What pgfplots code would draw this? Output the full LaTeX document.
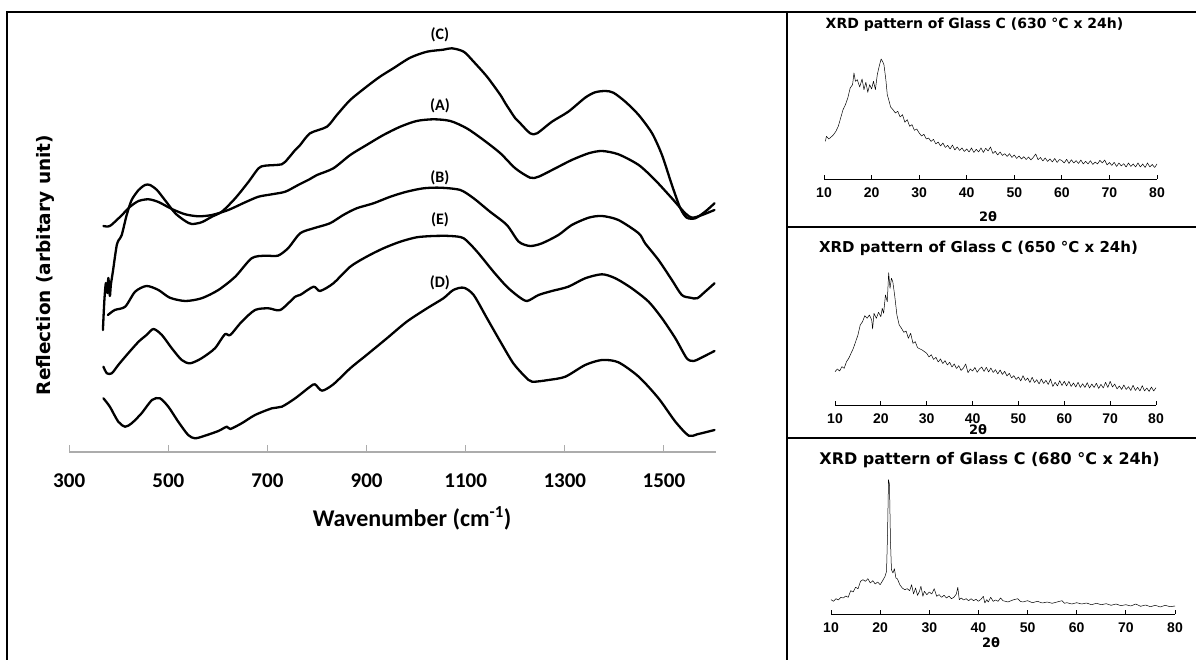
\documentclass[border=0pt]{standalone}
\usepackage{fontspec}
\setmainfont{Carlito}
\newfontfamily\dejavu{DejaVu Sans}
\newfontfamily\libsans{Liberation Sans}
\usepackage{pgfplots}
\pgfplotsset{compat=1.18}

\pgfplotsset{
  xrd/.style={
    scale only axis, height=150pt,
    xmin=10, xmax=80, ymin=0, ymax=150,
    axis x line=bottom, axis y line=none,
    axis line style={draw=black, line width=0.9pt, -},
    xtick={10,20,...,80},
    tick align=inside, major tick length=4pt,
    tick style={draw=black, line width=0.8pt},
    xticklabel style={font=\libsans\bfseries\fontsize{14}{16}\selectfont, anchor=center, yshift=-14pt},
    /pgf/number format/assume math mode=true,
    clip=false,
  },
  xrdline/.style={black, no markers, line width=0.5pt, line join=round},
  ftir/.style={black, no markers, smooth, tension=0.45, line width=2.3pt, line join=round, line cap=round},
}

\begin{document}
\begin{tikzpicture}[x=1pt,y=1pt]
\path[use as bounding box] (0,0) rectangle (1196,660);
\clip (0,0) rectangle (1196,660);

% frames
\draw[line width=2.6pt] (7,-5) -- (7,648) -- (1200,648);
\draw[line width=2.6pt] (787,-5) -- (787,648);
\draw[line width=2.6pt] (787,433) -- (1200,433);
\draw[line width=2.6pt] (787,222) -- (1200,222);

% ---------------- main reflection spectra ----------------
\begin{axis}[
  at={(69.2pt,208pt)}, anchor=south west,
  scale only axis, width=646.8pt, height=440pt,
  xmin=300, xmax=1605, ymin=0, ymax=440,
  axis x line=bottom, axis y line=none,
  axis line style={draw=gray!65, line width=1.5pt, -},
  xtick={300,500,...,1500},
  tick align=inside, major tick length=7pt,
  tick style={draw=gray!65, line width=1pt},
  xticklabel style={font=\bfseries\fontsize{21}{25}\selectfont, anchor=center, yshift=-29pt},
  /pgf/number format/assume math mode=true,
  /pgf/number format/1000 sep={},
  clip=false,
]
% (C)
\addplot[ftir] coordinates {(368,122)(371,152)(374,169)(377,159)(379,174)(382,156)(384,167)(388,180)(392,194)(396,207)(400,212)(406,217)(416,237)(426,252)(440,262)(453,267)(463,267)(477,262)(493,252)(514,238.7)(534,231)(547,228)(567,229.7)(588,235.3)(608,240.3)(635,253.7)(662,270.3)(682,283.7)(695,286.3)(729,287.7)(742,293.7)(756,302)(766,307)(786,318.7)(820,325.3)(840,337)(867,352)(900,365.3)(927,375.3)(954,383.7)(988,394.3)(1022,400.3)(1055,402.3)(1072,403.7)(1096,400.3)(1116,390.3)(1143,375.3)(1170,357)(1180,348.7)(1200,333.7)(1207,330.3)(1230,318.7)(1244,318.7)(1274,330.3)(1307,340.3)(1341,354.3)(1361,359.7)(1382,361)(1398,359.3)(1422,350.3)(1449,337)(1476,318.7)(1496,297)(1516,267)(1533,243.7)(1546,234.3)(1563,233.7)(1583,240.3)(1602,248.7)};
% (A)
\addplot[ftir] coordinates {(369,226)(382,226)(403,235.3)(423,245.3)(440,251)(460,252.7)(480,250)(507,243)(534,237.7)(561,235.7)(588,237)(621,242)(655,249.7)(682,255.3)(709,257.7)(736,260.3)(762,267)(786,273)(800,277)(833,283.7)(867,297)(900,307)(934,317)(968,325.3)(1001,331)(1035,332.7)(1069,331)(1102,323.7)(1136,312)(1170,298.7)(1200,283.7)(1230,274.3)(1247,275.3)(1281,283.7)(1314,292)(1348,298.7)(1375,301)(1408,297.7)(1449,287)(1482,272)(1516,253.7)(1543,238.7)(1557,234.3)(1577,237)(1602,242)};
% (B)
\addplot[ftir] coordinates {(378,137)(392,142)(413,145.3)(433,160.3)(456,166)(480,162)(503,154.3)(534,151)(567,153.7)(601,162)(635,175.3)(668,193.7)(695,196.3)(721,196.3)(742,204)(766,218.7)(793,223.7)(826,228.7)(853,237)(880,243.7)(914,248.7)(948,255.3)(981,260.3)(1015,263.7)(1049,264.3)(1089,262)(1116,253.7)(1149,240.3)(1183,227)(1207,210.3)(1230,206)(1254,208.7)(1287,217)(1314,227)(1348,234.3)(1375,236)(1408,232)(1449,218.7)(1462,208.7)(1489,192)(1516,172)(1536,157)(1553,154.3)(1567,153.7)(1583,160.3)(1602,168.7)};
% (E)
\addplot[ftir] coordinates {(369,85.3)(376,78.7)(386,78.7)(399,87)(419,98.7)(440,110.3)(456,117)(470,123)(487,117)(507,103.7)(527,92)(544,88.7)(567,93.7)(594,103.7)(614,117.7)(625,117)(648,130.3)(675,142)(702,143.7)(726,142)(756,155.3)(766,157)(793,165.3)(806,161)(833,168.7)(867,185.3)(900,195.3)(934,203.7)(968,210.3)(1001,214.7)(1035,216)(1069,216)(1096,213.7)(1123,200.3)(1156,180.3)(1183,165.3)(1207,155.3)(1224,151)(1247,157)(1274,161)(1307,165.3)(1341,173.7)(1375,177.7)(1402,173.7)(1435,163.7)(1469,150.3)(1496,133.7)(1523,113.7)(1546,93.7)(1560,91)(1573,93.7)(1602,101)};
% (D)
\addplot[ftir] coordinates {(369,53.7)(382,45.3)(399,30.3)(413,25.3)(426,28.7)(446,38.7)(467,52)(483,53.7)(500,45.3)(520,30.3)(540,17)(554,13.7)(574,16.3)(601,21)(618,25.3)(625,23)(648,28.7)(675,37)(709,43.7)(729,45.3)(756,53.7)(786,65.3)(796,67.7)(810,61.3)(833,67.7)(867,83.7)(900,97)(941,113.7)(981,130.3)(1022,143.7)(1055,153.7)(1075,162)(1096,164.3)(1116,157)(1143,133.7)(1170,110.3)(1196,88.7)(1220,75.3)(1234,70.3)(1267,72)(1301,75.3)(1341,87)(1375,92)(1408,89.7)(1449,75.3)(1489,53.7)(1523,30.3)(1550,16.3)(1567,17.7)(1602,22)};
\begin{scope}[every node/.style={font=\bfseries\fontsize{16}{18}\selectfont}]
\node at (axis cs:1048,417.7) {(C)};
\node at (axis cs:1048,346.3) {(A)};
\node at (axis cs:1048,274.3) {(B)};
\node at (axis cs:1048,232) {(E)};
\node at (axis cs:1048,169.7) {(D)};
\end{scope}
\end{axis}

\node[font=\bfseries\fontsize{24}{28}\selectfont] at (412,142) {Wavenumber (cm\textsuperscript{-1})};
\node[rotate=90, font=\dejavu\bfseries\fontsize{18.5}{22}\selectfont] at (45,395) {Reflection (arbitary unit)};

% ---------------- XRD 630 ----------------
\begin{axis}[xrd, at={(824pt,481pt)}, anchor=south west, width=333pt]
\addplot[xrdline] coordinates {(10.3,37.7)(10.5,42.7)(11,40)(11.5,42)(12,44.3)(12.5,47.7)(13,52.7)(13.5,61)(14,69.3)(14.5,74.3)(15,81)(15.5,91)(16,94.3)(16.3,106)(16.6,97.7)(17,99.3)(17.5,92)(18,100)(18.4,89.3)(18.8,96.7)(19.2,86.7)(19.6,94.3)(20,90)(20.4,97.7)(20.8,89.3)(21.2,104.3)(21.6,112.7)(22,120)(22.3,117.7)(22.6,114.3)(23,99.3)(23.3,84.3)(23.6,79.3)(24,72)(24.5,69.3)(25,66)(25.5,67.7)(26,62)(26.5,64.3)(27,56.7)(27.5,59.3)(28,52.7)(28.5,54.3)(29,48.7)(29.5,50)
(30,46)(30.5,43)(31,44.7)(31.5,40)(32,41)(32.5,37.5)(33,39.7)(33.5,35)(34,37)(34.5,33)(35,36)(35.5,31.5)(36,33.7)(36.5,30)(37,34)(37.5,29)(38,32)(38.5,28.5)(39,31)(39.5,27.5)(40,30)(40.5,27)(41,31)(41.5,26.5)(42,29.7)(42.5,27)(43,31)(43.5,26.5)(44,30.7)(44.5,28)(45,32)(45.5,25.5)(46,27.7)(46.5,24)(47,27)(47.5,23.5)(48,25.3)(48.5,22.5)(49,25.3)(49.5,21.5)(50,24)(50.5,20.5)(51,23)(51.5,20)(52,22.3)(52.5,19.5)(53,22)(53.5,19)(54,21.7)(54.5,25)(55,19.3)(55.5,21.5)(56,18)(56.5,21)(57,17.5)(57.5,20)(58,17)(58.5,20.5)(59,16.5)(59.5,19.5)(60,18.5)(60.5,16)(61,19.7)(61.5,15.5)(62,19.3)(62.5,16)(63,18.3)(63.5,15.5)(64,19)(64.5,15)(65,17.7)(65.5,15)(66,18.3)(66.5,14.5)(67,17)(67.5,15)(68,18.7)(68.5,16)(69,19)(69.5,14)(70,16.5)(70.5,13.5)(71,16.7)(71.5,12.5)(72,16)(72.5,13)(73,15.3)(73.5,12)(74,16)(74.5,12.5)(75,15)(75.5,12)(76,16)(76.5,12)(77,15)(77.5,11.5)(78,16)(78.5,12)(79,14.5)(79.5,11.5)(80,15)};
\end{axis}
\node[font=\dejavu\bfseries\fontsize{14}{17}\selectfont] at (974.5,635) {XRD pattern of Glass C (630 °C x 24h)};
\node[font=\dejavu\bfseries\fontsize{13}{15}\selectfont] at (988,443) {2θ};

% ---------------- XRD 650 ----------------
\begin{axis}[xrd, at={(835pt,255pt)}, anchor=south west, width=321pt]
\addplot[xrdline] coordinates {(10,33.3)(10.5,36)(11,34)(11.5,38.3)(12,36.7)(12.5,43.3)(13,46.7)(13.5,51.7)(14,56.7)(14.5,63.3)(15,70)(15.5,80)(16,83.3)(16.5,89.3)(17,86.7)(17.5,90)(18,85)(18.2,76)(18.5,91.7)(19,86.7)(19.5,92.7)(20,88.3)(20.3,96.7)(20.6,91.7)(21,110)(21.4,103.3)(21.7,132.3)(22,116.7)(22.3,126.7)(22.6,123.3)(23,110)(23.5,90)(24,80)(24.5,76.7)(25,72.7)(25.5,74)(26,66.7)(26.5,71.7)(27,61.7)(27.5,63.3)(28,57.3)(29,55)
(30,51.7)(30.5,48)(31,50.3)(31.5,45.5)(32,47.7)(32.5,43)(33,46)(33.5,41.5)(34,44.3)(34.5,40)(35,42.7)(35.5,38)(36,41)(36.5,36.5)(37,39.3)(37.5,34.5)(38,37)(38.5,41)(39,32.3)(39.5,36)(40,34)(40.5,37.5)(41,32.7)(41.5,36)(42,38)(42.5,33.5)(43,37.7)(43.5,33)(44,37)(44.5,32.5)(45,35.3)(45.5,31)(46,35)(46.5,30.5)(47,33.7)(47.5,29)(48,31.7)(48.5,27)(49,29.3)(49.5,25.5)(50,28)(50.5,24)(51,29.3)(51.5,24.5)(52,27)(52.5,22.5)(53,27.7)(53.5,22.5)(54,25.3)(54.5,21)(55,26)(55.5,21.5)(56,24.7)(56.5,20.5)(57,26)(57.5,18.5)(58,22.7)(58.5,19)(59,24.3)(59.5,19.5)(60,23.7)(60.5,19)(61,23.7)(61.5,18.5)(62,22)(62.5,18)(63,22.7)(63.5,17.5)(64,21.3)(64.5,17.5)(65,22.3)(65.5,17)(66,21)(66.5,17.5)(67,21.7)(67.5,16.5)(68,20.7)(68.5,17)(69,22.7)(69.5,17.5)(70,23.7)(70.5,18)(71,21)(71.5,16)(72,19)(72.5,15.5)(73,20)(73.5,15.5)(74,18.3)(74.5,14.5)(75,19.7)(75.5,14.5)(76,17.7)(76.5,14)(77,19.3)(77.5,14)(78,17)(78.5,13.5)(79,18)(79.5,14)(80,17.3)};
\end{axis}
\node[font=\dejavu\bfseries\fontsize{15}{18}\selectfont] at (978.5,412) {XRD pattern of Glass C (650 °C x 24h)};
\node[font=\dejavu\bfseries\fontsize{13}{15}\selectfont] at (978,230) {2θ};

% ---------------- XRD 680 ----------------
\begin{axis}[xrd, at={(831pt,46pt)}, anchor=south west, width=344pt]
\addplot[xrdline] coordinates {(10,14.3)(10.5,12.7)(11,15.3)(11.5,14)(12,16.7)(12.5,16)(13,18)(13.5,16.7)(14,23.3)(14.5,22)(15,26.7)(15.5,25.3)(16,32.7)(16.5,34.3)(17,32.7)(17.5,35.3)(18,31)(18.5,33.3)(19,30)(19.5,32)(20,29.3)(20.5,33.3)(21,37.7)(21.3,42.7)(21.5,79.3)(21.7,134.3)(21.9,129.3)(22.1,72.7)(22.3,44.3)(22.6,41)(22.9,45.3)(23.2,36)(23.5,35.3)(24,29.3)(24.5,26)(25,24.3)(25.5,25.3)(26,23.3)(26.4,29.3)(26.8,20)(27.2,26)(27.6,18.7)(28,22.7)(28.3,27.7)(28.7,17.7)(29,22.7)(29.5,19.3)(30,22)(30.5,20)(31,25.3)(31.5,17.7)(32,19.3)(32.5,16.7)(33,18.7)(33.5,16)(34,18)(34.5,15.3)(35,16.7)(35.5,20)(35.8,26.7)(36.1,14.3)(36.5,16)(37,14)(37.5,15.3)(38,13.3)(38.5,15.3)(39,13.3)(39.5,14.7)(40,12.7)(40.5,14.7)(41,17.7)(41.3,11)(41.7,14.3)(42,12)(42.5,16.7)(43,12.7)(43.5,14)(44,12.7)(44.5,16)(45,13.3)(46,12)(47,14)(48,15.3)(48.5,12.7)(49,12)(50,13.3)(51,11.3)(52,12.7)(53,11)(54,12)(55,10.7)(56,12)(57,13.3)(57.5,10.7)(58,11.3)(59,10)(60,11.3)(61,10)(62,11)(63,9.3)(64,10.7)(65,9.3)(66,10.3)(67,8.7)(68,10)(69,8.3)(70,9.3)(71,8)(72,10)(73,7.7)(74,9)(75,7.3)(76,8.7)(77,7)(78,8.7)(79,7.3)(80,8)};
\end{axis}
\node[font=\dejavu\bfseries\fontsize{16}{19}\selectfont] at (989.5,200) {XRD pattern of Glass C (680 °C x 24h)};
\node[font=\dejavu\bfseries\fontsize{13}{15}\selectfont] at (991,17) {2θ};
\end{tikzpicture}
\end{document}
